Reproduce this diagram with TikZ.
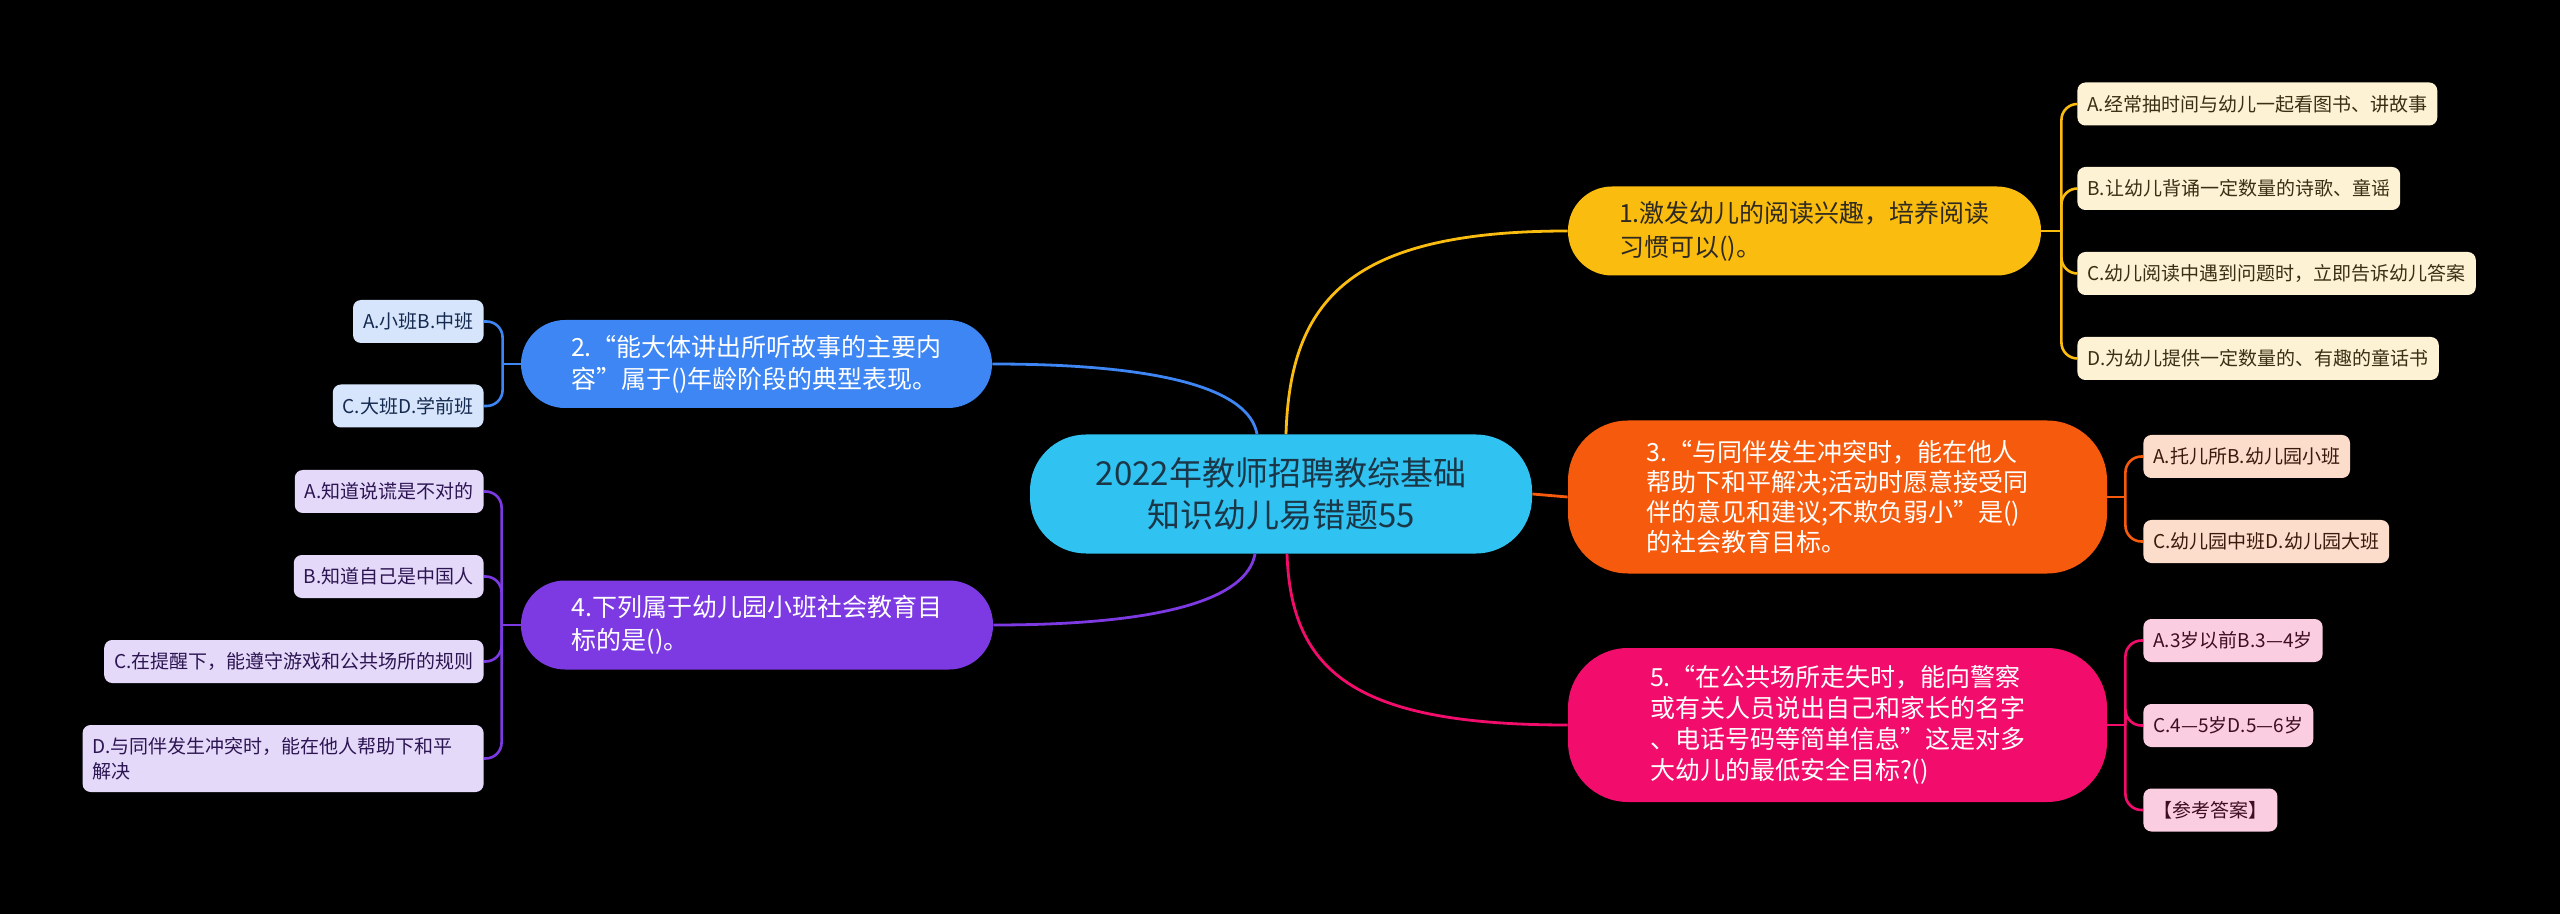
\documentclass[tikz,border=0pt]{standalone}
\usepackage{fontspec}
\setmainfont{Noto Sans CJK SC}
\definecolor{cC}{HTML}{30C3F2}
\definecolor{cCt}{HTML}{1B3646}
\definecolor{cY}{HTML}{FBBC10}
\definecolor{cYt}{HTML}{2E2A22}
\definecolor{cYl}{HTML}{FEF2D4}
\definecolor{cYlt}{HTML}{3A2F14}
\definecolor{cO}{HTML}{F65A0C}
\definecolor{cOl}{HTML}{FCDDCC}
\definecolor{cOlt}{HTML}{3A1A0C}
\definecolor{cP}{HTML}{F20D6C}
\definecolor{cPl}{HTML}{FBCDE0}
\definecolor{cPlt}{HTML}{3E0D22}
\definecolor{cB}{HTML}{3D86F4}
\definecolor{cBl}{HTML}{D7E5FC}
\definecolor{cBlt}{HTML}{142A4E}
\definecolor{cV}{HTML}{7D3AE3}
\definecolor{cVl}{HTML}{E5D9FA}
\definecolor{cVlt}{HTML}{2C1552}
\begin{document}
\begin{tikzpicture}[x=0.5pt,y=-0.5pt,
  mainbox/.style={align=left, inner sep=0pt},
  leaf/.style={rounded corners=4pt, minimum height=21.5pt, inner xsep=5pt, inner ysep=0pt, align=left, font=\fontsize{9.5pt}{12.5pt}\selectfont},
  link/.style={line width=1.4pt},
  brace/.style={line width=1.3pt, rounded corners=8pt}]
\fill[black] (0,0) rectangle (2560,914);
\useasboundingbox (0,0) rectangle (2560,914);

% center
\node[fill=cC, text=cCt, rounded corners=28pt, minimum width=251pt, minimum height=59.5pt, align=center, inner sep=0pt,
  font=\fontsize{16.5pt}{21pt}\selectfont] (c) at (1281,494) {2022年教师招聘教综基础\\知识幼儿易错题55};

% main topics
\node[mainbox, fill=cY, text=cYt, rounded corners=22pt, minimum width=236.5pt, minimum height=44.5pt,
  font=\fontsize{12.5pt}{17pt}\selectfont] (n1) at (1804.5,231) {1.激发幼儿的阅读兴趣，培养阅读\\习惯可以()。};
\node[mainbox, fill=cO, text=white, rounded corners=30pt, minimum width=269.5pt, minimum height=76.5pt,
  font=\fontsize{12.5pt}{15pt}\selectfont] (n3) at (1837.5,497) {3.“与同伴发生冲突时，能在他人\\帮助下和平解决;活动时愿意接受同\\伴的意见和建议;不欺负弱小”是()\\的社会教育目标。};
\node[mainbox, fill=cP, text=white, rounded corners=30pt, minimum width=269.5pt, minimum height=77pt,
  font=\fontsize{12.5pt}{15.5pt}\selectfont] (n5) at (1837.5,725) {5.“在公共场所走失时，能向警察\\或有关人员说出自己和家长的名字\\、电话号码等简单信息”这是对多\\大幼儿的最低安全目标?()};
\node[mainbox, fill=cB, text=white, rounded corners=22pt, minimum width=235.5pt, minimum height=44pt,
  font=\fontsize{12.5pt}{16pt}\selectfont] (n2) at (756.5,364) {2.“能大体讲出所听故事的主要内\\容”属于()年龄阶段的典型表现。};
\node[mainbox, fill=cV, text=white, rounded corners=22pt, minimum width=236pt, minimum height=44.5pt,
  font=\fontsize{12.5pt}{16.5pt}\selectfont] (n4) at (757,625) {4.下列属于幼儿园小班社会教育目\\标的是()。};

% leaves of n1
\node[leaf, fill=cYl, text=cYlt, anchor=west] (n1a) at (2077,104) {A.经常抽时间与幼儿一起看图书、讲故事};
\node[leaf, fill=cYl, text=cYlt, anchor=west] (n1b) at (2077,188.5) {B.让幼儿背诵一定数量的诗歌、童谣};
\node[leaf, fill=cYl, text=cYlt, anchor=west] (n1c) at (2077,273.5) {C.幼儿阅读中遇到问题时，立即告诉幼儿答案};
\node[leaf, fill=cYl, text=cYlt, anchor=west] (n1d) at (2077,358.5) {D.为幼儿提供一定数量的、有趣的童话书};
% leaves of n3
\node[leaf, fill=cOl, text=cOlt, anchor=west] (n3a) at (2143,456.5) {A.托儿所B.幼儿园小班};
\node[leaf, fill=cOl, text=cOlt, anchor=west] (n3c) at (2143,541.5) {C.幼儿园中班D.幼儿园大班};
% leaves of n5
\node[leaf, fill=cPl, text=cPlt, anchor=west] (n5a) at (2143,640.5) {A.3岁以前B.3—4岁};
\node[leaf, fill=cPl, text=cPlt, anchor=west] (n5c) at (2143,725.5) {C.4—5岁D.5—6岁};
\node[leaf, fill=cPl, text=cPlt, anchor=west] (n5r) at (2143,810) {【参考答案】};
% leaves of n2
\node[leaf, fill=cBl, text=cBlt, anchor=east] (n2a) at (484,321.5) {A.小班B.中班};
\node[leaf, fill=cBl, text=cBlt, anchor=east] (n2c) at (484,406) {C.大班D.学前班};
% leaves of n4
\node[leaf, fill=cVl, text=cVlt, anchor=east] (n4a) at (484,491.5) {A.知道说谎是不对的};
\node[leaf, fill=cVl, text=cVlt, anchor=east] (n4b) at (484,576.5) {B.知道自己是中国人};
\node[leaf, fill=cVl, text=cVlt, anchor=east] (n4c) at (484,661.5) {C.在提醒下，能遵守游戏和公共场所的规则};
\node[leaf, fill=cVl, text=cVlt, anchor=east, text width=190.5pt, minimum height=33.5pt] (n4d) at (484,758.5) {D.与同伴发生冲突时，能在他人帮助下和平\\解决};

% connectors center -> topics
\draw[link, cY] ([xshift=2.5pt]c.north) .. controls +(4,-134) and +(-218,0) .. (n1.west);
\draw[link, cO] (c.east) -- (n3.west);
\draw[link, cP] ([xshift=3pt]c.south) .. controls +(4,120) and +(-210,0) .. (n5.west);
\draw[link, cB] (n2.east) .. controls +(170,0) and +(-8,-45) .. ([xshift=-12pt]c.north);
\draw[link, cV] (n4.east) .. controls +(170,0) and +(-8,45) .. ([xshift=-13pt]c.south);

% braces
\draw[brace, cY] (n1.east) -- ++(20,0);
\foreach \k in {n1a,n1b,n1c,n1d} \draw[brace, cY] ([xshift=10pt]n1.east) |- (\k.west);
\draw[brace, cO] (n3.east) -- ++(18,0);
\foreach \k in {n3a,n3c} \draw[brace, cO] ([xshift=9pt]n3.east) |- (\k.west);
\draw[brace, cP] (n5.east) -- ++(18,0);
\foreach \k in {n5a,n5c,n5r} \draw[brace, cP] ([xshift=9pt]n5.east) |- (\k.west);
\draw[brace, cB] (n2.west) -- ++(-18,0);
\foreach \k in {n2a,n2c} \draw[brace, cB] ([xshift=-9pt]n2.west) |- (\k.east);
\draw[brace, cV] (n4.west) -- ++(-19,0);
\foreach \k in {n4a,n4b,n4c,n4d} \draw[brace, cV] ([xshift=-9.5pt]n4.west) |- (\k.east);
\end{tikzpicture}
\end{document}
